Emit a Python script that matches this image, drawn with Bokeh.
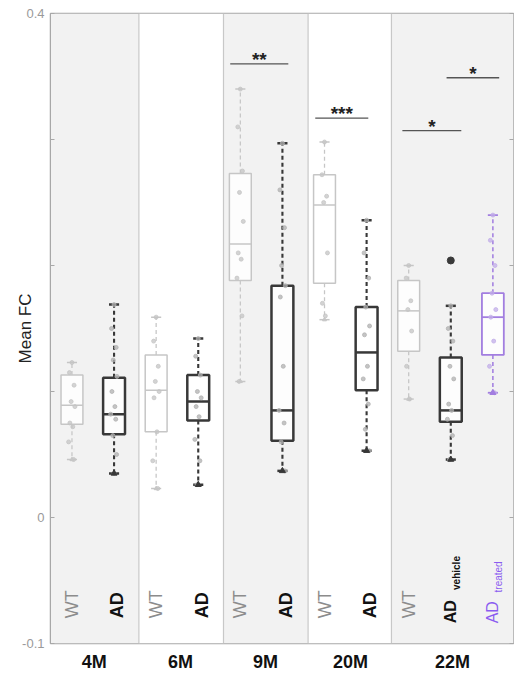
from bokeh.plotting import figure
from bokeh.models import Range1d, FixedTicker, LinearAxis, Span
from bokeh.core.properties import value
from bokeh.embed import file_html
from bokeh.resources import INLINE
import math

# ---- data -------------------------------------------------------------
ages = ["4M", "6M", "9M", "20M", "22M"]
age_pos = [1.53, 3.58, 5.6, 7.62, 10.04]
age_bounds = [0.49, 2.59, 4.6, 6.61, 8.59, 11.49]

box_x = [1, 2, 3, 4, 5, 6, 7, 8, 9, 10, 11]
box_kind = ["wt", "ad", "wt", "ad", "wt", "ad", "wt", "ad", "wt", "ad", "tr"]

whisk_lo = [0.046, 0.035, 0.023, 0.026, 0.108, 0.037, 0.157, 0.053, 0.094, 0.046, 0.099]
q1 = [0.074, 0.066, 0.068, 0.077, 0.188, 0.061, 0.186, 0.101, 0.132, 0.076, 0.129]
median = [0.089, 0.082, 0.101, 0.092, 0.217, 0.085, 0.248, 0.131, 0.164, 0.085, 0.159]
q3 = [0.113, 0.111, 0.129, 0.113, 0.273, 0.184, 0.272, 0.167, 0.188, 0.127, 0.178]
whisk_hi = [0.123, 0.169, 0.159, 0.142, 0.340, 0.297, 0.298, 0.236, 0.200, 0.168, 0.240]

points = [
    [0.123, 0.115, 0.105, 0.092, 0.088, 0.075, 0.072, 0.060, 0.046],
    [0.169, 0.150, 0.135, 0.125, 0.112, 0.100, 0.088, 0.082, 0.078, 0.065, 0.050, 0.035],
    [0.159, 0.140, 0.120, 0.108, 0.100, 0.095, 0.068, 0.045, 0.023],
    [0.142, 0.128, 0.113, 0.100, 0.095, 0.088, 0.080, 0.062, 0.045, 0.026],
    [0.340, 0.310, 0.275, 0.258, 0.235, 0.210, 0.205, 0.190, 0.160, 0.108],
    [0.297, 0.260, 0.230, 0.200, 0.184, 0.175, 0.120, 0.085, 0.075, 0.060, 0.037],
    [0.298, 0.272, 0.255, 0.250, 0.210, 0.170, 0.160],
    [0.236, 0.210, 0.190, 0.167, 0.152, 0.145, 0.120, 0.110, 0.090, 0.070, 0.053],
    [0.200, 0.190, 0.172, 0.165, 0.148, 0.120, 0.094],
    [0.168, 0.150, 0.140, 0.120, 0.110, 0.090, 0.085, 0.078, 0.065, 0.046],
    [0.240, 0.220, 0.200, 0.178, 0.165, 0.159, 0.140, 0.120, 0.099],
]
outlier_x = [10]
outlier_y = [0.204]

# significance brackets: left x, right x, height, stars
sig_x0 = [4.76, 6.78, 8.85, 9.9]
sig_x1 = [6.14, 8.04, 10.25, 11.15]
sig_y = [0.360, 0.317, 0.307, 0.349]
sig_txt = ["**", "***", "*", "*"]

y_ticks = [-0.1, 0.0, 0.1, 0.2, 0.3, 0.4]

# ---- styling ----------------------------------------------------------
kind_line = {"wt": "#c6c6c6", "ad": "#383838", "tr": "#a27ee0"}
kind_pt = {"wt": "#c4c4c4", "ad": "#b0b0b0", "tr": "#c2aee8"}
kind_w = {"wt": 1.5, "ad": 2.5, "tr": 1.8}
jitter = [0.0, -0.06, 0.05, -0.02, 0.07, -0.05, 0.02, -0.08, 0.04, -0.03, 0.06, 0.0]

p = figure(width=514, height=674, output_backend="svg", toolbar_location=None,
           x_range=Range1d(age_bounds[0], age_bounds[-1]),
           y_range=Range1d(-0.1, 0.4),
           min_border_left=50, min_border_right=1, min_border_top=13,
           min_border_bottom=31)
p.background_fill_color = "white"
p.border_fill_color = "white"
p.outline_line_color = "#a8a8a8"
p.outline_line_width = 1.5
p.grid.visible = False

# alternating age bands
band_fill = ["#f2f2f2" if i % 2 == 0 else "#ffffff" for i in range(len(ages))]
p.quad(left=age_bounds[:-1], right=age_bounds[1:], bottom=[-0.1] * len(ages),
       top=[0.4] * len(ages), fill_color=band_fill, line_alpha=0)
for b in age_bounds[1:-1]:
    p.add_layout(Span(location=b, dimension="height", line_color="#c8c8c8",
                      line_width=1.2))

# boxes, whiskers, medians, points
for i, x in enumerate(box_x):
    k = box_kind[i]
    c = kind_line[k]
    w = kind_w[k]
    p.segment(x0=[x, x], y0=[q3[i], q1[i]], x1=[x, x], y1=[whisk_hi[i], whisk_lo[i]],
              line_color=c, line_width=w * 0.85, line_dash="4 3")
    p.segment(x0=[x - 0.12, x - 0.12], y0=[whisk_hi[i], whisk_lo[i]],
              x1=[x + 0.12, x + 0.12], y1=[whisk_hi[i], whisk_lo[i]],
              line_color=c, line_width=w)
    p.quad(left=[x - 0.26], right=[x + 0.26], bottom=[q1[i]], top=[q3[i]],
           fill_color="white", fill_alpha=0.85, line_color=c, line_width=w)
    p.segment(x0=[x - 0.26], y0=[median[i]], x1=[x + 0.26], y1=[median[i]],
              line_color=c, line_width=w)
    pts = points[i]
    xs = [x + jitter[j % len(jitter)] for j in range(len(pts))]
    p.scatter(xs, pts, size=4, marker="circle", fill_color=kind_pt[k],
              line_color=kind_pt[k], alpha=0.75)
    # lowest observation marker at the lower whisker end
    p.scatter([x], [whisk_lo[i]], size=6 if k != "wt" else 4, marker="triangle",
              fill_color=c, line_color=c)

p.scatter(outlier_x, outlier_y, size=7, marker="circle", fill_color="#3a3a3a",
          line_color="#3a3a3a")

# significance brackets
p.segment(x0=sig_x0, y0=sig_y, x1=sig_x1, y1=sig_y, line_color="#555555", line_width=1.3)
p.text(x=[(a + b) / 2 for a, b in zip(sig_x0, sig_x1)], y=[s + 0.0035 for s in sig_y],
       text=sig_txt, text_align="center", text_baseline="middle",
       text_font=value("Liberation Sans"), text_font_style="bold",
       text_font_size="19px", text_color="#222222")

# rotated group labels
font = value("Liberation Sans")
label_y = -0.080
wt_x = [x for x, k in zip(box_x, box_kind) if k == "wt"]
ad_x = [x for x, k in zip(box_x, box_kind) if k == "ad"][:-1]
p.text(x=wt_x, y=[label_y] * len(wt_x), text=["WT"] * len(wt_x), angle=math.pi / 2,
       text_align="left", text_baseline="middle", text_font=font,
       text_font_size="18px", text_color="#8c8c8c")
p.text(x=[x + 0.08 for x in ad_x], y=[label_y] * len(ad_x), text=["AD"] * len(ad_x),
       angle=math.pi / 2, text_align="left", text_baseline="middle", text_font=font,
       text_font_style="bold", text_font_size="18px", text_color="#111111")
# AD vehicle / AD treated with subscripts
sub_y = -0.084
p.text(x=[10], y=[sub_y], text=["AD"], angle=math.pi / 2, text_align="left",
       text_baseline="middle", text_font=font, text_font_style="bold",
       text_font_size="16px", text_color="#111111")
p.text(x=[10.13], y=[sub_y + 0.0265], text=["vehicle"], angle=math.pi / 2,
       text_align="left", text_baseline="middle", text_font=font,
       text_font_style="bold", text_font_size="10px", text_color="#111111")
p.text(x=[11], y=[sub_y], text=["AD"], angle=math.pi / 2, text_align="left",
       text_baseline="middle", text_font=font, text_font_size="16px",
       text_color="#8a5cf0")
p.text(x=[11.13], y=[sub_y + 0.0245], text=["treated"], angle=math.pi / 2,
       text_align="left", text_baseline="middle", text_font=font,
       text_font_size="10px", text_color="#8a5cf0")

# axes
p.xaxis.ticker = FixedTicker(ticks=age_pos)
p.xaxis.major_label_overrides = {pos: a for pos, a in zip(age_pos, ages)}
p.xaxis.major_tick_line_color = None
p.xaxis.minor_tick_line_color = None
p.xaxis.axis_line_color = None
p.xaxis.major_label_text_font = "Liberation Sans"
p.xaxis.major_label_text_font_style = "bold"
p.xaxis.major_label_text_font_size = "18px"
p.xaxis.major_label_text_color = "#111111"
p.xaxis.major_label_standoff = 2

p.yaxis.ticker = FixedTicker(ticks=y_ticks)
p.yaxis.major_label_overrides = {0.1: "", 0.2: "", 0.3: "", 0.0: "0", -0.1: "-0.1", 0.4: "0.4"}
p.yaxis.major_tick_in = 4
p.yaxis.major_tick_out = 0
p.yaxis.minor_tick_line_color = None
p.yaxis.axis_line_color = "#a8a8a8"
p.yaxis.major_tick_line_color = "#a8a8a8"
p.yaxis.major_label_text_font = "Liberation Sans"
p.yaxis.major_label_text_font_size = "13px"
p.yaxis.major_label_text_color = "#9a9a9a"
p.yaxis.major_label_standoff = 6
p.yaxis.axis_label = "Mean FC"
p.yaxis.axis_label_text_font = "Liberation Sans"
p.yaxis.axis_label_text_font_style = "normal"
p.yaxis.axis_label_text_font_size = "17px"
p.yaxis.axis_label_text_color = "#222222"
p.yaxis.axis_label_standoff = -16

right = LinearAxis(ticker=FixedTicker(ticks=y_ticks), major_label_text_font_size="0px",
                   major_tick_in=4, major_tick_out=0, minor_tick_line_color=None,
                   axis_line_color=None, major_tick_line_color="#a8a8a8")
p.add_layout(right, "right")

open("out.html", "w").write(file_html(p, INLINE))
